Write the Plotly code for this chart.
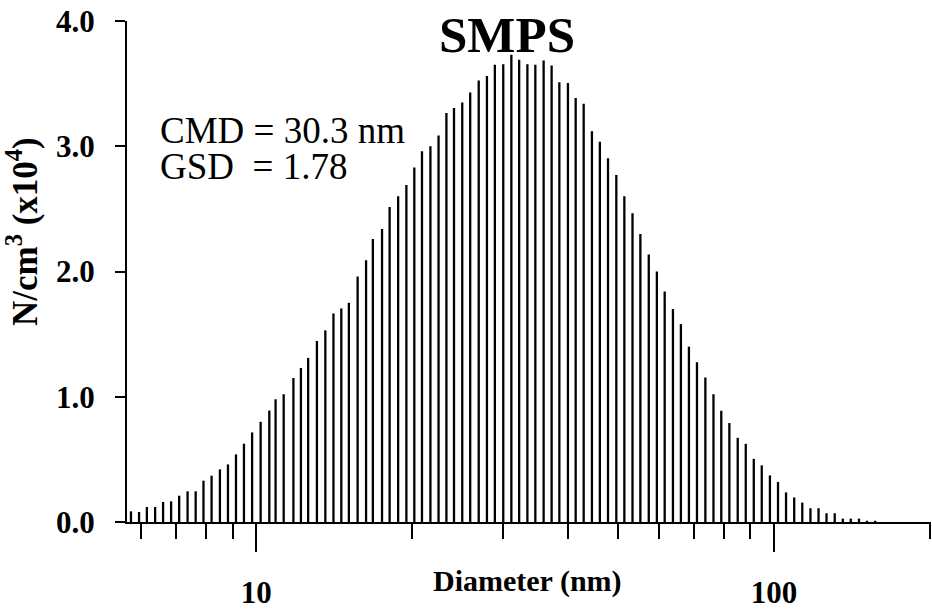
import plotly.graph_objects as go

# ---- data ----
diameter_nm = [5.73, 5.94, 6.15, 6.38, 6.61, 6.85, 7.10, 7.37, 7.64, 7.91,
               8.20, 8.51, 8.82, 9.14, 9.47, 9.82, 10.2, 10.6, 10.9, 11.3,
               11.8, 12.2, 12.6, 13.1, 13.6, 14.1, 14.6, 15.1, 15.7, 16.3,
               16.8, 17.5, 18.1, 18.8, 19.5, 20.2, 20.9, 21.7, 22.5, 23.3,
               24.1, 25.0, 25.9, 26.9, 27.9, 28.9, 30.0, 31.1, 32.2, 33.4,
               34.6, 35.9, 37.2, 38.5, 40.0, 41.4, 42.9, 44.5, 46.1, 47.8,
               49.6, 51.4, 53.3, 55.2, 57.3, 59.4, 61.5, 63.8, 66.1, 68.5,
               71.0, 73.7, 76.4, 79.1, 82.0, 85.1, 88.2, 91.4, 94.7, 98.2,
               101.8, 105.5, 109.4, 113.4, 117.6, 121.9, 126.3, 131.0, 135.8, 140.7,
               145.9, 151.2, 156.8]

conc_x1e4 = [0.085, 0.08, 0.12, 0.12, 0.16, 0.165, 0.21, 0.245, 0.245, 0.33,
             0.37, 0.42, 0.46, 0.54, 0.625, 0.715, 0.80, 0.89, 0.98, 1.02,
             1.15, 1.23, 1.31, 1.445, 1.53, 1.665, 1.705, 1.75, 1.96, 2.09,
             2.26, 2.34, 2.515, 2.60, 2.69, 2.83, 2.96, 3.00, 3.085, 3.265,
             3.305, 3.35, 3.43, 3.525, 3.56, 3.65, 3.655, 3.73, 3.69, 3.655,
             3.65, 3.685, 3.645, 3.51, 3.505, 3.385, 3.34, 3.12, 3.035, 2.905,
             2.77, 2.60, 2.465, 2.30, 2.136, 2.00, 1.84, 1.70, 1.58, 1.40,
             1.276, 1.154, 1.02, 0.888, 0.79, 0.672, 0.624, 0.504, 0.452, 0.372,
             0.32, 0.236, 0.196, 0.155, 0.11, 0.11, 0.07, 0.07, 0.027, 0.027,
             0.027, 0.01, 0.01]

y_tick_vals = [0, 1, 2, 3, 4]
y_tick_text = ["0.0", "1.0", "2.0", "3.0", "4.0"]
x_major_vals = [10, 100]
x_major_text = ["10", "100"]
x_minor_vals = [6, 7, 8, 9, 20, 30, 40, 50, 60, 70, 80, 90, 200]

title_text = "SMPS"
cmd_text = "CMD = 30.3 nm"
gsd_text = "GSD\u00a0 = 1.78"
x_title = "Diameter (nm)"
y_title = "N/cm<sup>3</sup> (x10<sup>4</sup>)"

# ---- figure ----
W, H = 932, 612
L, R, T, B = 127, 1, 21, 90
PW, PH = W - L - R, H - T - B

def px(xp):
    return (xp - L) / PW

def py(yp):
    return (H - B - yp) / PH

xs, ys = [], []
for d, v in zip(diameter_nm, conc_x1e4):
    xs += [d, d, None]
    ys += [0, v, None]

fig = go.Figure(go.Scatter(x=xs, y=ys, mode="lines",
                           line=dict(color="black", width=2.3),
                           hoverinfo="skip", showlegend=False))

FONT = "Liberation Serif"

fig.update_layout(
    width=W, height=H,
    margin=dict(l=L, r=R, t=T, b=B),
    paper_bgcolor="white", plot_bgcolor="white",
    font=dict(family=FONT, color="black"),
    showlegend=False,
)

fig.update_xaxes(
    type="log", range=[0.7505, 2.3032],
    showgrid=False, zeroline=False,
    showline=True, linecolor="black", linewidth=2,
    tickmode="array", tickvals=x_major_vals, ticktext=x_major_text,
    ticks="outside", ticklen=28, tickwidth=2, tickcolor="black",
    tickfont=dict(family=FONT, size=31, weight="bold", color="black"),
    ticklabelstandoff=14,
    minor=dict(tickmode="array", tickvals=x_minor_vals, ticks="outside",
               ticklen=15, tickwidth=2, tickcolor="black", showgrid=False),
)

fig.update_yaxes(
    range=[0, 4.0],
    showgrid=False, zeroline=False,
    showline=True, linecolor="black", linewidth=2,
    tickmode="array", tickvals=y_tick_vals, ticktext=y_tick_text,
    ticks="outside", ticklen=10, tickwidth=2, tickcolor="black",
    tickfont=dict(family=FONT, size=31, weight="bold", color="black"),
    ticklabelstandoff=14,
)

annots = [
    dict(text=title_text, x=px(507), y=py(35), xanchor="center", yanchor="middle",
         font=dict(family=FONT, size=51, weight="bold", color="black")),
    dict(text=cmd_text, x=px(158), y=py(130), xanchor="left", yanchor="middle",
         font=dict(family=FONT, size=37, color="black")),
    dict(text=gsd_text, x=px(158), y=py(166), xanchor="left", yanchor="middle",
         font=dict(family=FONT, size=37, color="black")),
    dict(text=x_title, x=px(527), y=py(581), xanchor="center", yanchor="middle",
         font=dict(family=FONT, size=30, weight="bold", color="black")),
    dict(text=y_title, x=px(22), y=py(232), xanchor="center", yanchor="middle",
         textangle=-90,
         font=dict(family=FONT, size=35, weight="bold", color="black")),
]
for a in annots:
    a.update(xref="paper", yref="paper", showarrow=False)
fig.update_layout(annotations=annots)

fig.write_html("out.html")
